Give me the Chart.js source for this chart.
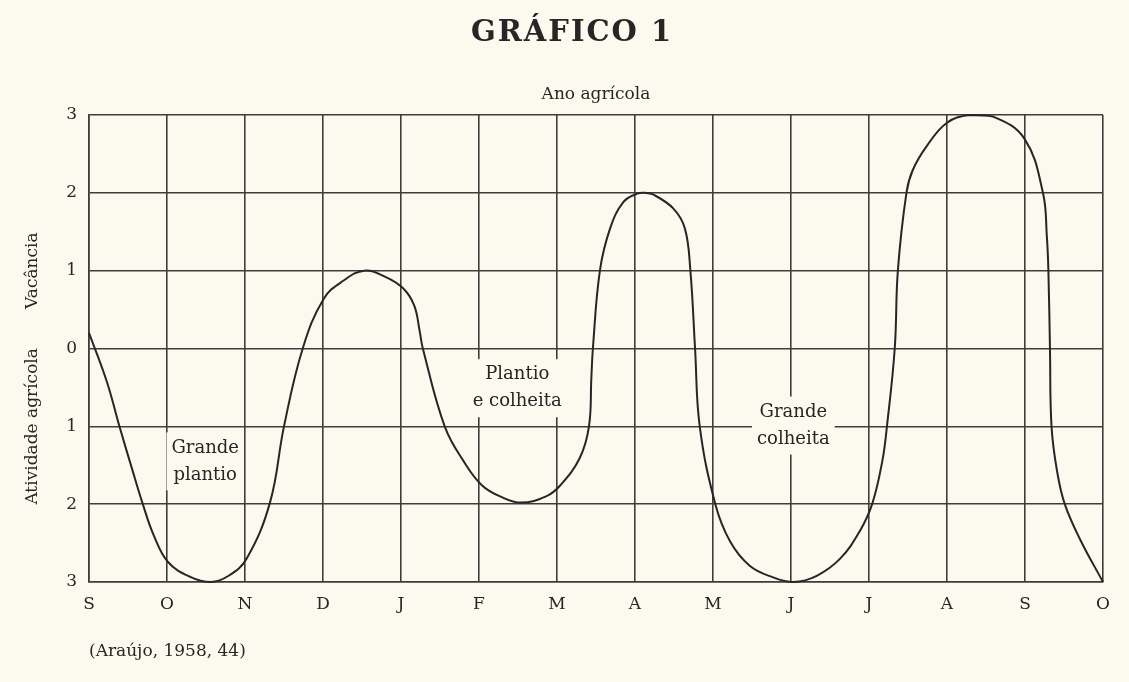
<!DOCTYPE html>
<html>
<head>
<meta charset="utf-8">
<script src="https://cdn.jsdelivr.net/npm/chart.js@4.4.1/dist/chart.umd.min.js"></script>
<style>
  html, body { margin: 0; padding: 0; background: #fcfaee; }
  #wrap { width: 1129px; height: 682px; position: relative; }
</style>
</head>
<body>
<div id="wrap"><canvas id="c" width="1129" height="682"></canvas></div>
<script>
// ---- data ----
const months = ['S','O','N','D','J','F','M','A','M','J','J','A','S','O'];
const yTickLabels = ['3','2','1','0','1','2','3']; // for values -3 .. 3
const curveX = [0,0.23,0.39,0.55,0.69,0.83,1.01,1.29,1.56,1.79,
  2.02,2.32,2.5,2.74,3.01,3.26,3.53,3.8,4.03,
  4.17,4.24,4.28,4.56,4.81,5.04,5.27,5.54,
  5.86,6.04,6.29,6.41,6.44,6.46,6.55,6.68,6.85,7.03,
  7.13,7.23,7.49,7.64,7.71,7.77,7.83,8.03,8.22,8.47,
  8.77,9.03,9.33,9.63,9.88,10.04,10.17,10.23,10.33,10.37,
  10.48,10.56,10.74,11.0,11.29,11.59,11.99,12.23,12.28,
  12.30,12.32,12.34,12.41,12.51,12.71,13];
const curveY = [0.2,-0.43,-1,-1.54,-2,-2.4,-2.74,-2.93,-3,-2.92,
  -2.7,-1.98,-1,0,0.64,0.87,1,0.92,0.77,
  0.55,0.22,0,-1,-1.46,-1.76,-1.9,-1.98,
  -1.9,-1.76,-1.41,-1,-0.39,0,1,1.54,1.88,1.99,
  2.0,1.98,1.8,1.54,1,0,-1,-2,-2.48,-2.79,
  -2.94,-3,-2.92,-2.7,-2.35,-2,-1.45,-1,0,1,
  2,2.29,2.6,2.9,3,2.98,2.7,2.0,1.44,
  1.0,0,-1,-1.57,-2,-2.46,-3];
const noteLines = [['Grande','plantio'],['Plantio','e colheita'],['Grande','colheita']];
const noteX = [1.49, 5.49, 9.03];
const noteY = [-1.45, -0.51, -0.99];
const titleText = 'GRÁFICO 1';
const topAxisTitle = 'Ano agrícola';
const yTitleUpper = 'Vacância';
const yTitleLower = 'Atividade agrícola';
const sourceText = '(Araújo, 1958, 44)';

// ---- styles ----
const PAPER = '#fcfaee';
const INK = '#262626';
const GRID = '#3d3d3d';
const SERIF = '"DejaVu Serif", "Liberation Serif", serif';

const points = curveX.map((x, i) => ({ x: x, y: curveY[i] }));

const decor = {
  id: 'decor',
  beforeDraw(chart) {
    const ctx = chart.ctx;
    ctx.save();
    ctx.fillStyle = PAPER;
    ctx.fillRect(0, 0, chart.width, chart.height);
    ctx.restore();
  },
  beforeDatasetsDraw(chart) {
    const ctx = chart.ctx;
    const xs = chart.scales.x, ys = chart.scales.y;
    ctx.save();
    ctx.font = '18px ' + SERIF;
    ctx.textAlign = 'center';
    ctx.textBaseline = 'middle';
    noteLines.forEach((lines, i) => {
      const cx = xs.getPixelForValue(noteX[i]);
      const cy = ys.getPixelForValue(noteY[i]);
      const w = Math.max(...lines.map(l => ctx.measureText(l).width)) + 10;
      const lh = 27;
      const h = lh * lines.length + 4;
      ctx.fillStyle = PAPER;
      ctx.fillRect(cx - w / 2, cy - h / 2, w, h);
      ctx.fillStyle = INK;
      lines.forEach((l, j) => {
        ctx.fillText(l, cx, cy + (j - (lines.length - 1) / 2) * lh);
      });
    });
    ctx.restore();
  },
  afterDraw(chart) {
    const ctx = chart.ctx;
    const area = chart.chartArea;
    const ys = chart.scales.y;
    ctx.save();
    ctx.fillStyle = INK;
    ctx.textAlign = 'center';
    ctx.textBaseline = 'middle';
    // title
    ctx.font = 'bold 29px ' + SERIF;
    if ('letterSpacing' in ctx) ctx.letterSpacing = '2px';
    ctx.fillText(titleText, 572, 33);
    if ('letterSpacing' in ctx) ctx.letterSpacing = '0px';
    // top axis title
    ctx.font = '17px ' + SERIF;
    ctx.fillText(topAxisTitle, (area.left + area.right) / 2, 95);
    // rotated y titles
    ctx.font = '17px ' + SERIF;
    [[yTitleUpper, 1.0], [yTitleLower, -1.0]].forEach(([t, v]) => {
      ctx.save();
      ctx.translate(33, ys.getPixelForValue(v));
      ctx.rotate(-Math.PI / 2);
      ctx.fillText(t, 0, 0);
      ctx.restore();
    });
    // source
    ctx.textAlign = 'left';
    ctx.font = '17px ' + SERIF;
    ctx.fillText(sourceText, 89, 652);
    ctx.restore();
  }
};

new Chart(document.getElementById('c'), {
  type: 'line',
  data: {
    datasets: [{
      data: points,
      borderColor: INK,
      borderWidth: 2,
      pointRadius: 0,
      fill: false,
      tension: 0.4,
      clip: false
    }]
  },
  options: {
    responsive: false,
    animation: false,
    devicePixelRatio: 1,
    layout: { padding: { left: 0, right: 26, top: 115, bottom: 0 } },
    plugins: { legend: { display: false }, tooltip: { enabled: false } },
    scales: {
      x: {
        type: 'linear',
        min: 0, max: 13,
        afterFit(s) { s.height = 100; },
        afterBuildTicks(s) { s.ticks = months.map((m, i) => ({ value: i })); },
        ticks: {
          autoSkip: false,
          maxRotation: 0,
          padding: 12,
          color: INK,
          font: { family: SERIF, size: 17 },
          callback: (v) => months[v]
        },
        grid: { color: GRID, lineWidth: 1.6, drawTicks: false },
        border: { color: GRID, width: 1.6 }
      },
      y: {
        type: 'linear',
        min: -3, max: 3,
        afterFit(s) { s.width = 89; },
        afterBuildTicks(s) { s.ticks = yTickLabels.map((t, i) => ({ value: i - 3 })); },
        ticks: {
          padding: 12,
          color: INK,
          font: { family: SERIF, size: 17 },
          callback: (v) => yTickLabels[v + 3]
        },
        grid: { color: GRID, lineWidth: 1.6, drawTicks: false },
        border: { color: GRID, width: 1.6 }
      }
    }
  },
  plugins: [decor]
});
</script>
</body>
</html>
